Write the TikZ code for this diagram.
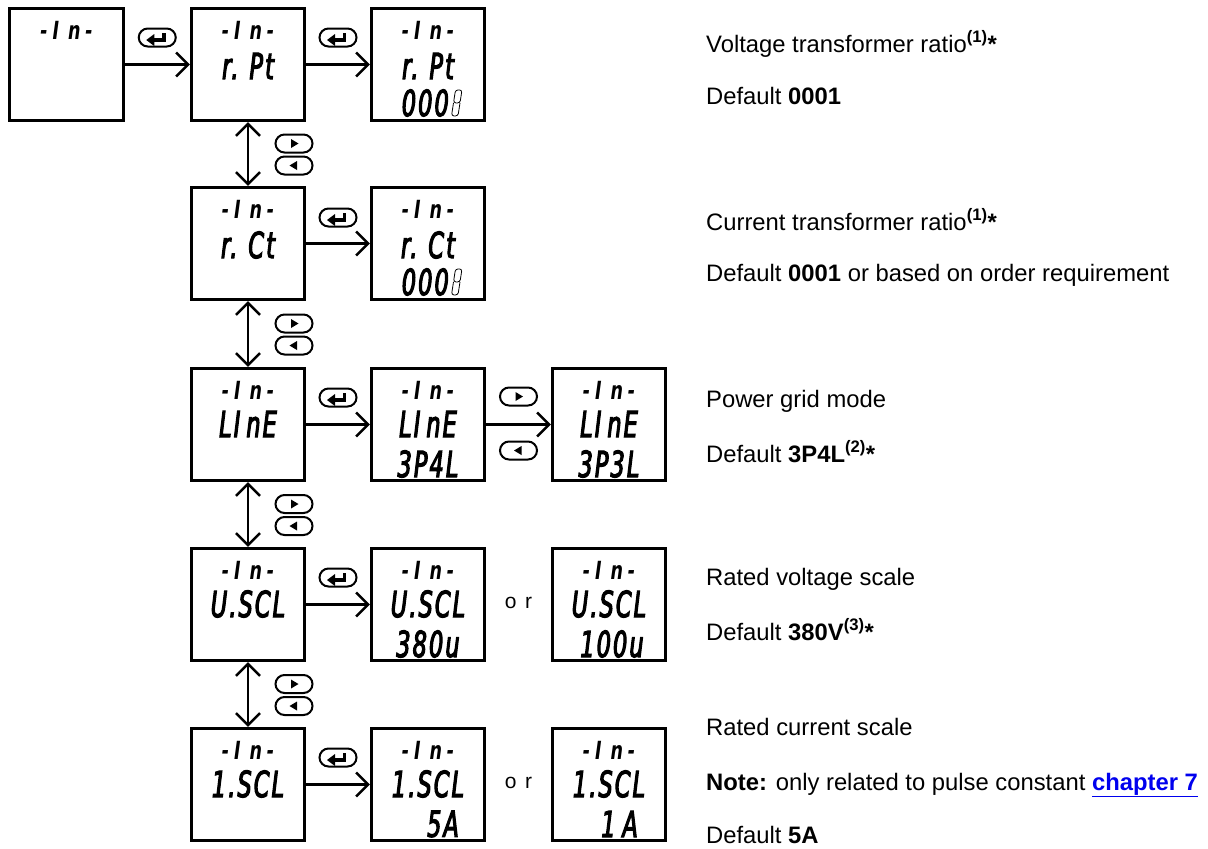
\documentclass[tikz,border=0pt]{standalone}
\usepackage{fontspec}
\setmainfont{Liberation Sans}
\newfontfamily\lcdfont{DejaVu Sans}[FakeStretch=0.62, FakeBold=3, LetterSpace=6]
\newfontfamily\lcdtopfont{DejaVu Sans}[FakeStretch=0.7, LetterSpace=6]
\newfontfamily\spacedfont{Liberation Sans}[LetterSpace=40]
\usetikzlibrary{arrows.meta,calc,shapes.misc}
\definecolor{linkblue}{RGB}{0,0,238}
\tikzset{
  lcdbox/.style={draw, line width=2.6pt, minimum width=113.5pt, minimum height=112.5pt, inner sep=0pt},
  lcdtop/.style={font=\lcdtopfont\bfseries\itshape\fontsize{25}{25}\selectfont, inner sep=0pt},
  lcdmain/.style={font=\lcdfont\itshape\fontsize{36}{36}\selectfont, inner sep=0pt},
  flow/.style={line width=2.6pt, -{Straight Barb[length=12pt,width=24pt]}},
  twoway/.style={line width=2.6pt, {Straight Barb[length=12pt,width=24pt]}-{Straight Barb[length=12pt,width=24pt]}},
  keybtn/.style={draw, line width=2pt, rounded rectangle, minimum width=37pt, minimum height=18pt, inner sep=0pt},
  desc/.style={anchor=base west, inner sep=0pt, font=\fontsize{23.8}{27}\selectfont},
  ortext/.style={font=\spacedfont\fontsize{21}{21}\selectfont, inner sep=0pt},
}
\newcommand\enterglyph[1]{%
  \fill ($(#1)+(-11,2.5)$) -- ($(#1)+(-3,-3.5)$) -- ($(#1)+(-3,8.5)$) -- cycle;
  \draw[line width=3.5pt] ($(#1)+(-4,2.5)$) -- ($(#1)+(6.5,2.5)$) -- ($(#1)+(6.5,-5)$);
}
\newcommand\rightglyph[1]{%
  \fill ($(#1)+(-3,-4.5)$) -- ($(#1)+(4.5,0)$) -- ($(#1)+(-3,4.5)$) -- cycle;
}
\newcommand\leftglyph[1]{%
  \fill ($(#1)+(3,-4.5)$) -- ($(#1)+(-4.5,0)$) -- ($(#1)+(3,4.5)$) -- cycle;
}
\newcommand\topline{-\kern5pt I\kern9pt n\kern5pt -}
\newcommand\screen[2]{% name, position
  \node[lcdbox] (#1) at (#2) {};
  \node[lcdtop] (#1-t) at ($(#1.north)+(0,23)$) {\topline};
}
\newcommand\hollowdigit[1]{%
  \draw[line width=0.8pt, rounded corners=2.5pt]
    ($(#1)+(-3.5,0)$) -- ($(#1)+(-1.5,-13)$) -- ($(#1)+(5,-13)$) -- ($(#1)+(3,0)$) -- cycle
    ($(#1)+(-3.5,0)$) -- ($(#1)+(-5.5,13)$) -- ($(#1)+(1,13)$) -- ($(#1)+(3,0)$);
}
\begin{document}
\begin{tikzpicture}[x=1pt,y=-1pt]
\useasboundingbox (0,0) rectangle (1208,849);

% screens
\screen{a}{66.5,64.5}
\screen{pt}{248,64.5}
\screen{ptv}{428,64.5}
\screen{ct}{248,243.5}
\screen{ctv}{428,243.5}
\screen{ln}{248,424.5}
\screen{lnf}{428,424.5}
\screen{lnt}{609,424.5}
\screen{us}{248,604.5}
\screen{usa}{428,604.5}
\screen{usb}{609,604.5}
\screen{is}{248,784.5}
\screen{isa}{428,784.5}
\screen{isb}{609,784.5}

% second lines
\node[lcdmain] (pt-m) at ($(pt.north)+(0,59)$) {r.\kern11pt Pt};
\node[lcdmain] (ptv-m) at ($(ptv.north)+(0,59)$) {r.\kern11pt Pt};
\node[lcdmain] (ct-m) at ($(ct.north)+(0,59)$) {r.\kern11pt Ct};
\node[lcdmain] (ctv-m) at ($(ctv.north)+(0,59)$) {r.\kern11pt Ct};
\node[lcdmain] (ln-m) at ($(ln.north)+(0,57)$) {LI\kern6pt nE};
\node[lcdmain] (lnf-m) at ($(lnf.north)+(0,57)$) {LI\kern6pt nE};
\node[lcdmain] (lnt-m) at ($(lnt.north)+(0,57)$) {LI\kern6pt nE};
\node[lcdmain] (us-m) at ($(us.north)+(0,57)$) {U.SCL};
\node[lcdmain] (usa-m) at ($(usa.north)+(0,57)$) {U.SCL};
\node[lcdmain] (usb-m) at ($(usb.north)+(0,57)$) {U.SCL};
\node[lcdmain] (is-m) at ($(is.north)+(0,57)$) {1.SCL};
\node[lcdmain] (isa-m) at ($(isa.north)+(0,57)$) {1.SCL};
\node[lcdmain] (isb-m) at ($(isb.north)+(0,57)$) {1.SCL};

% third lines
\node[lcdmain, anchor=east] (ptv-b) at ($(ptv.north)+(21,96)$) {000};
\coordinate (ptv-h) at ($(ptv.north)+(29,96)$);
\hollowdigit{ptv-h}
\node[lcdmain, anchor=east] (ctv-b) at ($(ctv.north)+(21,96)$) {000};
\coordinate (ctv-h) at ($(ctv.north)+(29,96)$);
\hollowdigit{ctv-h}
\node[lcdmain] (lnf-b) at ($(lnf.north)+(0,97)$) {3P4L};
\node[lcdmain] (lnt-b) at ($(lnt.north)+(0,97)$) {3P3L};
\node[lcdmain] (usa-b) at ($(usa.north)+(0,97)$) {380u};
\node[lcdmain] (usb-b) at ($(usb.north)+(3,97)$) {100u};
\node[lcdmain, anchor=east] (isa-b) at ($(isa.north east)+(-27,97)$) {5A};
\node[lcdmain, anchor=east] (isb-b) at ($(isb.north east)+(-29,97)$) {1\kern7pt A};

% horizontal flows
\draw[flow] (a.east) -- (pt.west);
\draw[flow] (pt.east) -- (ptv.west);
\draw[flow] (ct.east) -- (ctv.west);
\draw[flow] (ln.east) -- (lnf.west);
\draw[flow] (lnf.east) -- (lnt.west);
\draw[flow] (us.east) -- (usa.west);
\draw[flow] (is.east) -- (isa.west);

% vertical flows
\draw[twoway] (pt.south) -- (ct.north);
\draw[twoway] (ct.south) -- (ln.north);
\draw[twoway] (ln.south) -- (us.north);
\draw[twoway] (us.south) -- (is.north);

% enter keys
\node[keybtn] (k1) at ($(a.east)!0.5!(pt.west)+(0,-27)$) {}; \enterglyph{k1}
\node[keybtn] (k2) at ($(pt.east)!0.5!(ptv.west)+(0,-27)$) {}; \enterglyph{k2}
\node[keybtn] (k3) at ($(ct.east)!0.5!(ctv.west)+(0,-26)$) {}; \enterglyph{k3}
\node[keybtn] (k4) at ($(ln.east)!0.5!(lnf.west)+(0,-27)$) {}; \enterglyph{k4}
\node[keybtn] (k5) at ($(us.east)!0.5!(usa.west)+(0,-27)$) {}; \enterglyph{k5}
\node[keybtn] (k6) at ($(is.east)!0.5!(isa.west)+(0,-27)$) {}; \enterglyph{k6}

% right/left keys (vertical)
\node[keybtn] (r1) at ($(pt.south)!0.5!(ct.north)+(46,-10.5)$) {}; \rightglyph{r1}
\node[keybtn] (l1) at ($(pt.south)!0.5!(ct.north)+(46,11.5)$) {}; \leftglyph{l1}
\node[keybtn] (r2) at ($(ct.south)!0.5!(ln.north)+(46,-10.5)$) {}; \rightglyph{r2}
\node[keybtn] (l2) at ($(ct.south)!0.5!(ln.north)+(46,11.5)$) {}; \leftglyph{l2}
\node[keybtn] (r3) at ($(ln.south)!0.5!(us.north)+(46,-10.5)$) {}; \rightglyph{r3}
\node[keybtn] (l3) at ($(ln.south)!0.5!(us.north)+(46,11.5)$) {}; \leftglyph{l3}
\node[keybtn] (r4) at ($(us.south)!0.5!(is.north)+(46,-10.5)$) {}; \rightglyph{r4}
\node[keybtn] (l4) at ($(us.south)!0.5!(is.north)+(46,11.5)$) {}; \leftglyph{l4}

% right/left keys (horizontal, line row)
\node[keybtn] (r5) at ($(lnf.east)!0.5!(lnt.west)+(0,-28)$) {}; \rightglyph{r5}
\node[keybtn] (l5) at ($(lnf.east)!0.5!(lnt.west)+(0,26)$) {}; \leftglyph{l5}

% or
\node[ortext] (or1) at ($(usa.east)!0.5!(usb.west)+(0,-2)$) {or};
\node[ortext] (or2) at ($(isa.east)!0.5!(isb.west)+(0,-2)$) {or};

% descriptions
\node[desc] (d1) at (706,52) {Voltage transformer ratio\textbf{\textsuperscript{(1)}*}};
\node[desc] (d2) at (706,104) {Default \textbf{0001}};
\node[desc] (d3) at (706,230) {Current transformer ratio\textbf{\textsuperscript{(1)}*}};
\node[desc] (d4) at (706,281) {Default \textbf{0001} or based on order requirement};
\node[desc] (d5) at (706,407) {Power grid mode};
\node[desc] (d6) at (706,462) {Default \textbf{3P4L\textsuperscript{(2)}*}};
\node[desc] (d7) at (706,585) {Rated voltage scale};
\node[desc] (d8) at (706,640) {Default \textbf{380V\textsuperscript{(3)}*}};
\node[desc] (d9) at (706,735) {Rated current scale};
\node[desc] (d10) at (706,790) {\textbf{Note:} only related to pulse constant \textcolor{linkblue}{\textbf{\underline{chapter 7}}}};
\node[desc] (d11) at (706,843) {Default \textbf{5A}};
\end{tikzpicture}
\end{document}
